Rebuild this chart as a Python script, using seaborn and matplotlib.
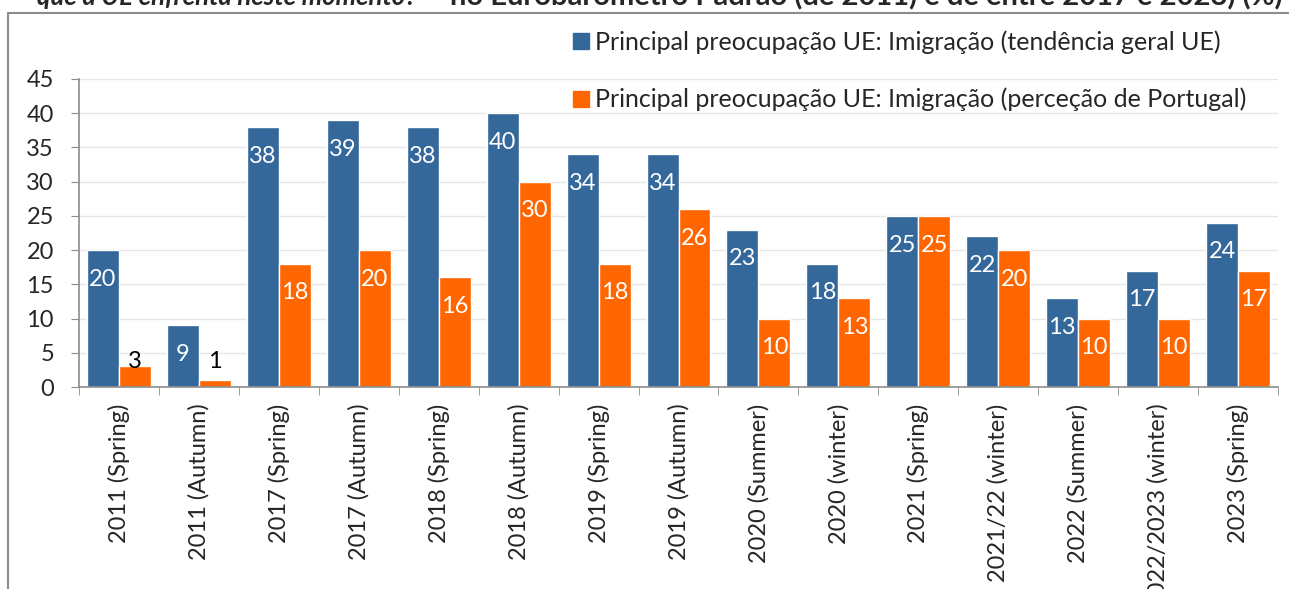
import pandas as pd
import matplotlib.pyplot as plt
import seaborn as sns
from matplotlib.lines import Line2D

# Data
periodos = ['2011 (Spring)', '2011 (Autumn)', '2017 (Spring)', '2017 (Autumn)',
            '2018 (Spring)', '2018 (Autumn)', '2019 (Spring)', '2019 (Autumn)',
            '2020 (Summer)', '2020 (winter)', '2021 (Spring)', '2021/22 (winter)',
            '2022 (Summer)', '2022/2023 (winter)', '2023 (Spring)']
ue = [20, 9, 38, 39, 38, 40, 34, 34, 23, 18, 25, 22, 13, 17, 24]
portugal = [3, 1, 18, 20, 16, 30, 18, 26, 10, 13, 25, 20, 10, 10, 17]

serie_ue = 'Principal preocupação UE: Imigração (tendência geral UE)'
serie_pt = 'Principal preocupação UE: Imigração (perceção de Portugal)'

df = pd.DataFrame({
    'periodo': periodos * 2,
    'valor': ue + portugal,
    'serie': [serie_ue] * len(ue) + [serie_pt] * len(portugal),
})

sns.set_style('white')
plt.rcParams['font.family'] = ['Lato', 'DejaVu Sans']
plt.rcParams['font.size'] = 17

fig = plt.figure(figsize=(12.89, 5.89), dpi=100)
ax = fig.add_axes([79 / 1289, 1 - 387 / 589, 1199 / 1289, 308 / 589])

sns.barplot(data=df, x='periodo', y='valor', hue='serie',
            palette=['#34679A', '#FF6600'], saturation=1, width=0.8, ax=ax)

ax.set_ylim(0, 45)
ax.set_yticks(range(0, 46, 5))
ax.set_xlim(-0.5, len(periodos) - 0.5)
ax.set_xlabel('')
ax.set_ylabel('')
ax.yaxis.grid(True, color='#E6E6E6', lw=1)
ax.set_axisbelow(True)
for s in ['top', 'right']:
    ax.spines[s].set_visible(False)
for s in ['left', 'bottom']:
    ax.spines[s].set_color('#8C8C8C')
    ax.spines[s].set_linewidth(1.2)

# tick marks between categories, labels centered
ax.set_xticks([i - 0.5 for i in range(len(periodos) + 1)], minor=True)
ax.tick_params(axis='x', which='minor', length=6, color='#8C8C8C', direction='out', bottom=True)
ax.tick_params(axis='x', which='major', length=0, pad=12, labelsize=17)
ax.tick_params(axis='y', length=6, color='#8C8C8C', direction='out', left=True, pad=12, labelsize=17)
plt.setp(ax.get_xticklabels(), rotation=90)

# value labels
for cont in ax.containers:
    for bar in cont:
        h = bar.get_height()
        cx = bar.get_x() + bar.get_width() / 2
        if h < 5:
            ax.annotate(f'{h:.0f}', xy=(cx, 0), xytext=(0, 18), textcoords='offset points',
                        ha='center', va='center', color='black', fontsize=17)
        else:
            ax.annotate(f'{h:.0f}', xy=(cx, h), xytext=(0, -21), textcoords='offset points',
                        ha='center', va='center', color='white', fontsize=17)

# legend
ax.get_legend().remove()
handles = [Line2D([], [], marker='s', ls='', color='#34679A', markersize=11),
           Line2D([], [], marker='s', ls='', color='#FF6600', markersize=11)]
fig.legend(handles, [serie_ue, serie_pt], loc='upper left',
           bbox_to_anchor=(556 / 1289, 1 - 18 / 589), frameon=False,
           fontsize=18, labelspacing=1.35, handletextpad=0.05, borderpad=0,
           handlelength=1.0)

# chart frame (partly cut off)
fig.add_artist(Line2D([8 / 1289, 1.0], [1 - 13 / 589, 1 - 13 / 589], color='#8C8C8C', lw=1.5))
fig.add_artist(Line2D([8 / 1289, 8 / 1289], [0, 1 - 13 / 589], color='#8C8C8C', lw=1.5))

# title, mostly outside the picture (as in the source)
fig.text(37 / 1289, 1 - 5 / 589, 'que a UE enfrenta neste momento?', fontsize=18.5,
         fontweight='bold', fontstyle='italic', va='baseline', ha='left')
fig.text(1283 / 1289, 1 - 5 / 589, 'no Eurobarómetro Padrão (de 2011) e de entre 2017 e 2023) (%)',
         fontsize=21, fontweight='bold', va='baseline', ha='right')

fig.savefig('out.png', dpi=100)
